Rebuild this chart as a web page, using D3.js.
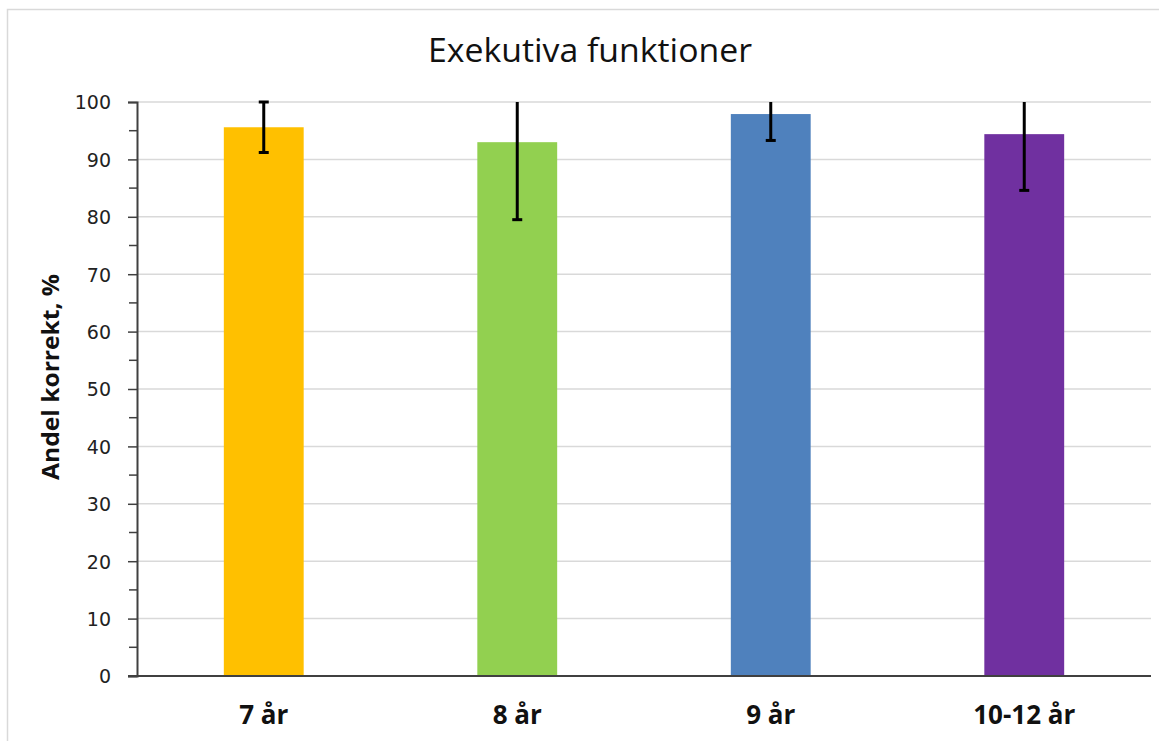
<!DOCTYPE html>
<html>
<head>
<meta charset="utf-8">
<script src="https://cdn.jsdelivr.net/npm/d3@7"></script>
<style>
  html, body { margin: 0; padding: 0; background: #fff; }
  svg { display: block; }
</style>
</head>
<body>
<svg id="chart" width="1159" height="741"></svg>
<script>
const categories = ["7 år", "8 år", "9 år", "10-12 år"];
const values = [95.6, 93.0, 97.9, 94.4];
const errors = [4.4, 13.5, 4.6, 9.8];
const colors = ["#FFC000", "#92D050", "#4F81BD", "#7030A0"];
const yTicks = [0, 10, 20, 30, 40, 50, 60, 70, 80, 90, 100];
const yMinorTicks = [5, 15, 25, 35, 45, 55, 65, 75, 85, 95];
const title = "Exekutiva funktioner";
const yLabel = "Andel korrekt, %";

const svg = d3.select("#chart");
const W = 1159, H = 741;
const margin = { left: 137, right: 8, top: 102, bottom: 65 };

// outer frame
svg.append("rect").attr("x", 7.5).attr("y", 9.5).attr("width", W).attr("height", H)
  .attr("fill", "#fff").attr("stroke", "#d9d9d9").attr("stroke-width", 1.5);

const x = d3.scaleBand().domain(categories)
  .range([margin.left, W - margin.right]).paddingInner(0.685).paddingOuter(0.3425);
const y = d3.scaleLinear().domain([0, 100]).range([H - margin.bottom, margin.top]);

// gridlines
svg.append("g").selectAll("line").data(yTicks.filter(d => d > 0)).join("line")
  .attr("x1", margin.left).attr("x2", W - margin.right)
  .attr("y1", d => y(d)).attr("y2", d => y(d))
  .attr("stroke", "#d9d9d9").attr("stroke-width", 1.5);

// bars
svg.append("g").selectAll("rect").data(categories).join("rect")
  .attr("x", d => x(d)).attr("width", x.bandwidth())
  .attr("y", (d, i) => y(values[i]))
  .attr("height", (d, i) => y(0) - y(values[i]))
  .attr("fill", (d, i) => colors[i]);

// error bars
const eg = svg.append("g").attr("stroke", "#000").attr("stroke-width", 3);
categories.forEach((c, i) => {
  const cx = x(c) + x.bandwidth() / 2;
  const lo = Math.max(0, values[i] - errors[i]);
  const hiRaw = values[i] + errors[i];
  const hi = Math.min(100, hiRaw);
  eg.append("line").attr("x1", cx).attr("x2", cx).attr("y1", y(lo)).attr("y2", y(hi));
  eg.append("line").attr("x1", cx - 5).attr("x2", cx + 5).attr("y1", y(lo)).attr("y2", y(lo));
  if (hiRaw <= 100.05) {
    eg.append("line").attr("x1", cx - 5).attr("x2", cx + 5).attr("y1", y(hi)).attr("y2", y(hi));
  }
});

// y axis
const yAxis = svg.append("g").attr("transform", `translate(${margin.left},0)`)
  .call(d3.axisLeft(y).tickValues(yTicks).tickSize(9));
yAxis.select(".domain").attr("stroke", "#404040").attr("stroke-width", 2);
yAxis.selectAll(".tick line").attr("stroke", "#404040").attr("stroke-width", 1.5);
yAxis.selectAll(".tick text").attr("font-family", "'DejaVu Sans', sans-serif")
  .attr("font-size", 19).attr("fill", "#222").attr("x", -26).attr("dy", "0.36em");
svg.append("g").selectAll("line").data(yMinorTicks).join("line")
  .attr("x1", margin.left - 8).attr("x2", margin.left)
  .attr("y1", d => y(d)).attr("y2", d => y(d))
  .attr("stroke", "#404040").attr("stroke-width", 1.5);

// x axis
const xAxis = svg.append("g").attr("transform", `translate(0,${y(0)})`)
  .call(d3.axisBottom(x).tickSize(0));
xAxis.select(".domain").attr("stroke", "#404040").attr("stroke-width", 2)
  .attr("d", `M${margin.left - 9},0H${W - margin.right}`);
xAxis.selectAll(".tick text").attr("font-family", "'Open Sans', sans-serif")
  .attr("font-weight", "bold").attr("font-size", 26).attr("fill", "#111")
  .attr("y", 48).attr("dy", 0);

// title
svg.append("text").attr("x", 590).attr("y", 62).attr("text-anchor", "middle")
  .attr("font-family", "'Open Sans', sans-serif").attr("font-size", 32).attr("fill", "#111")
  .attr("textLength", 324).attr("lengthAdjust", "spacingAndGlyphs")
  .text(title);

// y label
svg.append("text")
  .attr("transform", `translate(59,377) rotate(-90)`)
  .attr("text-anchor", "middle")
  .attr("font-family", "'Open Sans', sans-serif").attr("font-weight", "bold")
  .attr("font-size", 23).attr("fill", "#111")
  .attr("textLength", 206).attr("lengthAdjust", "spacingAndGlyphs")
  .text(yLabel);
</script>
</body>
</html>
